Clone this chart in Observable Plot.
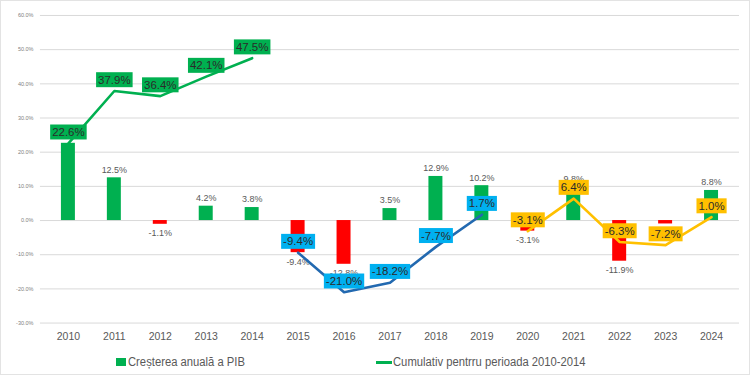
<!DOCTYPE html>
<html>
<head>
<meta charset="utf-8">
<script src="https://cdn.jsdelivr.net/npm/d3@7"></script>
<script src="https://cdn.jsdelivr.net/npm/@observablehq/plot@0.6"></script>
<style>
  html, body { margin: 0; padding: 0; background: #fff; }
  #wrap { position: relative; width: 750px; height: 375px; box-sizing: border-box; border: 1px solid #e3e3e3; overflow: hidden; background: #fff; }
  #chart { position: absolute; left: -1px; top: -1px; }
  .leg { position: absolute; top: 353px; font-family: "Liberation Sans Narrow", "Arial Narrow", "Liberation Sans", sans-serif; font-size: 12.5px; color: #595959; white-space: nowrap; line-height: 16px; transform: scaleX(0.9); transform-origin: left center; }
  .sw { position: absolute; }
</style>
</head>
<body>
<div id="wrap">
  <div id="chart"></div>
  <div class="sw" style="left:115px;top:357px;width:10px;height:8px;background:#00B050"></div>
  <div class="leg" style="left:127px">Creșterea anuală a PIB</div>
  <div class="sw" style="left:375px;top:360px;width:16px;height:3px;background:#00B050"></div>
  <div class="leg" style="left:392px">Cumulativ pentrru perioada 2010-2014</div>
</div>
<script>
const years = ["2010","2011","2012","2013","2014","2015","2016","2017","2018","2019","2020","2021","2022","2023","2024"];
const growth = [22.6, 12.5, -1.1, 4.2, 3.8, -9.4, -12.8, 3.5, 12.9, 10.2, -3.1, 9.8, -11.9, -1.0, 8.8];
const yearsA = ["2010","2011","2012","2013","2014"];
const cumA = [22.6, 37.9, 36.4, 42.1, 47.5];
const yearsB = ["2015","2016","2017","2018","2019"];
const cumB = [-9.4, -21.0, -18.2, -7.7, 1.7];
const yearsC = ["2020","2021","2022","2023","2024"];
const cumC = [-3.1, 6.4, -6.3, -7.2, 1.0];
const yTicks = [-30, -20, -10, 0, 10, 20, 30, 40, 50, 60];

const GREEN = "#00B050", RED = "#FF0000", BLUE_LINE = "#2269B0", BLUE_BOX = "#00B0F0", GOLD = "#FFC000";

const bars = years.map((year, i) => ({year, v: growth[i]}));
const A = yearsA.map((year, i) => ({year, v: cumA[i]}));
const B = yearsB.map((year, i) => ({year, v: cumB[i]}));
const C = yearsC.map((year, i) => ({year, v: cumC[i]}));
const pct = d => d.v.toFixed(1) + "%";

const chart = Plot.plot({
  width: 750,
  height: 350,
  marginTop: 15,
  marginBottom: 27,
  marginLeft: 40,
  marginRight: 10,
  style: {fontFamily: "'Liberation Sans', Arial, sans-serif", background: "transparent"},
  x: {type: "band", domain: years, paddingInner: 0.69, paddingOuter: 0.345, label: null},
  y: {domain: [-30, 60], label: null},
  marks: [
    Plot.gridY(yTicks, {stroke: "#d9d9d9", strokeOpacity: 1, strokeWidth: 1}),
    Plot.axisY(yTicks, {tickSize: 0, tickPadding: 7, fontSize: 5.5, fill: "#7f7f7f", tickFormat: d => d.toFixed(1) + "%", label: null}),
    Plot.axisX({tickSize: 0, tickPadding: 9, fontSize: 10.5, fill: "#595959", label: null}),
    Plot.barY(bars, {x: "year", y: "v", fill: d => d.v >= 0 ? GREEN : RED}),
    Plot.text(bars.filter(d => d.v >= 0), {x: "year", y: "v", text: pct, dy: -8, fontSize: 9, fill: "#595959"}),
    Plot.text(bars.filter(d => d.v < 0), {x: "year", y: "v", text: pct, dy: 9, fontSize: 9, fill: "#595959"}),
    Plot.lineY(A, {x: "year", y: "v", stroke: GREEN, strokeWidth: 2.6}),
    Plot.lineY(B, {x: "year", y: "v", stroke: BLUE_LINE, strokeWidth: 2.6}),
    Plot.lineY(C, {x: "year", y: "v", stroke: GOLD, strokeWidth: 2.6}),
    Plot.text(A, {x: "year", y: "v", text: pct, dy: -11, fontSize: 11.5, fill: "#2b2b2b", ariaDescription: "box-green"}),
    Plot.text(B, {x: "year", y: "v", text: pct, dy: -11, fontSize: 11.5, fill: "#2b2b2b", ariaDescription: "box-blue"}),
    Plot.text(C, {x: "year", y: "v", text: pct, dy: -11, fontSize: 11.5, fill: "#2b2b2b", ariaDescription: "box-gold"})
  ]
});
document.getElementById("chart").append(chart);

const boxColors = [["box-green", GREEN], ["box-blue", BLUE_BOX], ["box-gold", GOLD]];
for (const [desc, color] of boxColors) {
  chart.querySelectorAll(`g[aria-description="${desc}"] text`).forEach(t => {
    const b = t.getBBox();
    const r = document.createElementNS("http://www.w3.org/2000/svg", "rect");
    const cy = b.y + b.height / 2;
    r.setAttribute("x", b.x - 2);
    r.setAttribute("y", cy - 7.5);
    r.setAttribute("width", b.width + 4);
    r.setAttribute("height", 15);
    r.setAttribute("fill", color);
    const tr = t.getAttribute("transform");
    if (tr) r.setAttribute("transform", tr);
    t.parentNode.insertBefore(r, t);
  });
}
</script>
</body>
</html>
